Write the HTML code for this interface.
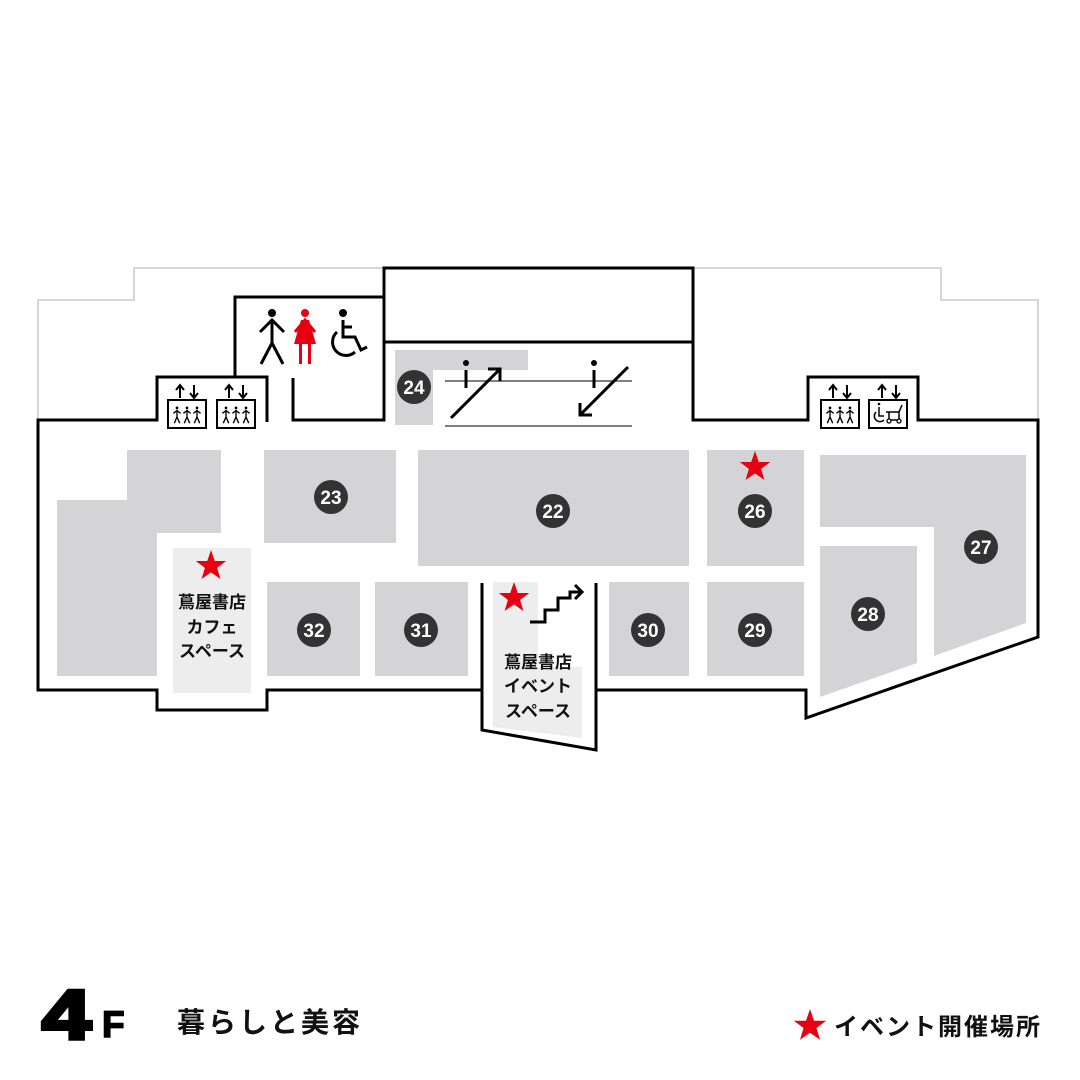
<!DOCTYPE html>
<html><head><meta charset="utf-8"><style>
html,body{margin:0;padding:0;background:#fff}
svg{display:block}
text{font-family:"Liberation Sans","Noto Sans CJK JP",sans-serif}
</style></head><body>
<svg width="1080" height="1080" viewBox="0 0 1080 1080" xmlns="http://www.w3.org/2000/svg">
<defs>
<symbol id="star" viewBox="-10 -10 20 20"><polygon fill="#e60012" points="0,-10 2.35,-3.1 9.5,-3.1 3.8,1.2 5.9,8.1 0,4 -5.9,8.1 -3.8,1.2 -9.5,-3.1 -2.35,-3.1"/></symbol>
<g id="person"><circle cx="0" cy="-9" r="1.5"/><path d="M0,-7 V1 M-4,-3 L0,-6 L4,-3 M0,1 L-3,8 M0,1 L3,8" stroke="#000" stroke-width="1.5" fill="none"/></g>
</defs>
<polyline points="38,420 38,300 134,300 134,268 384,268" fill="none" stroke="#c8c8c8" stroke-width="1.5"/>
<polyline points="693,268 941,268 941,300 1038,300 1038,420" fill="none" stroke="#c8c8c8" stroke-width="1.5"/>
<g fill="#d4d4d6">
<polygon points="57,500 127,500 127,450 221,450 221,533 157,533 157,676 57,676"/>
<rect x="264" y="450" width="132" height="93"/>
<rect x="418" y="450" width="271" height="116"/>
<rect x="707" y="450" width="97" height="116"/>
<polygon points="820,455 1026,455 1026,623 934,656 934,527 820,527"/>
<polygon points="820,546 917,546 917,663 820,697"/>
<rect x="267" y="582" width="93" height="94"/>
<rect x="375" y="582" width="93" height="94"/>
<rect x="609" y="582" width="80" height="94"/>
<rect x="707" y="582" width="97" height="94"/>
<polygon points="395,350 528,350 528,370 433,370 433,425 395,425"/>
</g>
<g fill="#ededed">
<rect x="173" y="548" width="78" height="145"/>
<polygon points="493,582 538,582 538,667 582,667 582,738 493,727"/>
</g>
<g fill="none" stroke="#000" stroke-width="3">
<polyline points="267,422 267,377 157,377 157,420 38,420 38,690 157,690 157,710 267,710 267,690 482,690"/>
<polyline points="482,583 482,730 596,750 596,583"/>
<polyline points="596,690 806,690 806,718 1038,637 1038,420 918,420 918,377 808,377 808,420 693,420 693,268 384,268 384,420 293,420 293,378"/>
<polyline points="235,378 235,297 384,297"/>
<line x1="384" y1="342" x2="693" y2="342"/>
</g>
<g stroke="#333" stroke-width="1.3"><line x1="445" y1="381" x2="632" y2="381"/><line x1="445" y1="426" x2="632" y2="426"/></g>
<g stroke="#000" stroke-width="3" fill="none">
<line x1="451" y1="418" x2="500" y2="369"/><polyline points="488,369 500,369 500,381"/>
<line x1="628" y1="367" x2="580" y2="415"/><polyline points="580,403 580,415 592,415"/>
<line x1="466" y1="370" x2="466" y2="388"/><line x1="594" y1="370" x2="594" y2="388"/>
</g>
<circle cx="466" cy="363" r="3"/><circle cx="594" cy="363" r="3"/>
<circle cx="272" cy="313" r="4"/>
<path d="M272,319 V343 M260,332 L272,320 L284,332 M272,343 L261,364 M272,343 L283,364" stroke="#000" stroke-width="3" fill="none"/>
<circle cx="305" cy="313" r="4" fill="#e60012"/>
<path d="M295,332 L305,320 L315,332" stroke="#e60012" stroke-width="3" fill="none"/>
<polygon points="301,320 309,320 316,344 294,344" fill="#e60012"/>
<rect x="299" y="344" width="3" height="20" fill="#e60012"/><rect x="308" y="344" width="3" height="20" fill="#e60012"/>
<circle cx="343" cy="313" r="4"/>
<path d="M343,320 V337 H355 L361,350 L367,347 M342,327 H352 M337,332 A13,13 0 1 0 355,352" stroke="#000" stroke-width="3" fill="none"/>
<g id="elev">
<path d="M180,398 V386 M176,390 L180,385 L184,390 M194,385 V397 M190,393 L194,398 L198,393" stroke="#000" stroke-width="2" fill="none"/>
<rect x="168" y="400" width="38" height="28" fill="#fff" stroke="#000" stroke-width="2"/>
<use href="#person" transform="translate(177,416) scale(0.9)"/><use href="#person" transform="translate(187,416) scale(0.9)"/><use href="#person" transform="translate(197,416) scale(0.9)"/>
</g>
<use href="#elev" transform="translate(49,0)"/>
<use href="#elev" transform="translate(653,0)"/>
<g>
<path d="M882,398 V386 M878,390 L882,385 L886,390 M896,385 V397 M892,393 L896,398 L900,393" stroke="#000" stroke-width="2" fill="none"/>
<rect x="869" y="400" width="38" height="28" fill="#fff" stroke="#000" stroke-width="2"/>
<circle cx="879" cy="404" r="1.3"/>
<path d="M879,407 V416 H884 M876,412 A5,5 0 1 0 884,420 M886,412 H899 L902,405 M889,412 V420 H899 V412" stroke="#000" stroke-width="1.5" fill="none"/>
<circle cx="889" cy="421" r="2" fill="#fff" stroke="#000" stroke-width="1.3"/><circle cx="899" cy="421" r="2" fill="#fff" stroke="#000" stroke-width="1.3"/>
</g>
<polyline points="530,622 545,622 545,610 558,610 558,598 570,598 570,592 582,592" fill="none" stroke="#000" stroke-width="3"/>
<polyline points="575,585 582,592 575,599" fill="none" stroke="#000" stroke-width="3"/>
<g fill="#333"><circle cx="331" cy="497" r="17"/><circle cx="553" cy="511" r="17"/><circle cx="755" cy="511" r="17"/><circle cx="981" cy="547" r="17"/><circle cx="868" cy="614" r="17"/><circle cx="755" cy="630" r="17"/><circle cx="648" cy="630" r="17"/><circle cx="421" cy="630" r="17"/><circle cx="314" cy="630" r="17"/><circle cx="414" cy="387" r="17"/></g>
<g fill="#fff" font-weight="bold" font-size="19" text-anchor="middle">
<text x="331" y="504">23</text><text x="553" y="518">22</text><text x="755" y="518">26</text><text x="981" y="554">27</text><text x="868" y="621">28</text><text x="755" y="637">29</text><text x="648" y="637">30</text><text x="421" y="637">31</text><text x="314" y="637">32</text><text x="414" y="394">24</text>
</g>
<use href="#star" x="195" y="550" width="32" height="32"/>
<use href="#star" x="739" y="451" width="32" height="32"/>
<use href="#star" x="498" y="582" width="32" height="32"/>
<use href="#star" x="793" y="1009" width="34" height="34"/>
<g font-size="17" font-weight="bold" text-anchor="middle" fill="#111">
<text x="212" y="608">蔦屋書店</text><text x="212" y="633">カフェ</text><text x="212" y="657">スペース</text>
<text x="538" y="668">蔦屋書店</text><text x="538" y="692">イベント</text><text x="538" y="717">スペース</text>
</g>
<text x="42" y="1039" font-size="70" font-weight="bold" fill="#000" stroke="#000" stroke-width="4" textLength="49" lengthAdjust="spacingAndGlyphs">4</text>
<text x="102" y="1037" font-size="37" font-weight="bold" fill="#000" stroke="#000" stroke-width="1.5">F</text>
<text x="177" y="1032" font-size="28" font-weight="bold" fill="#111" textLength="183">暮らしと美容</text>
<text x="834" y="1035" font-size="24" font-weight="bold" fill="#111" textLength="206">イベント開催場所</text>
</svg>
</body></html>
